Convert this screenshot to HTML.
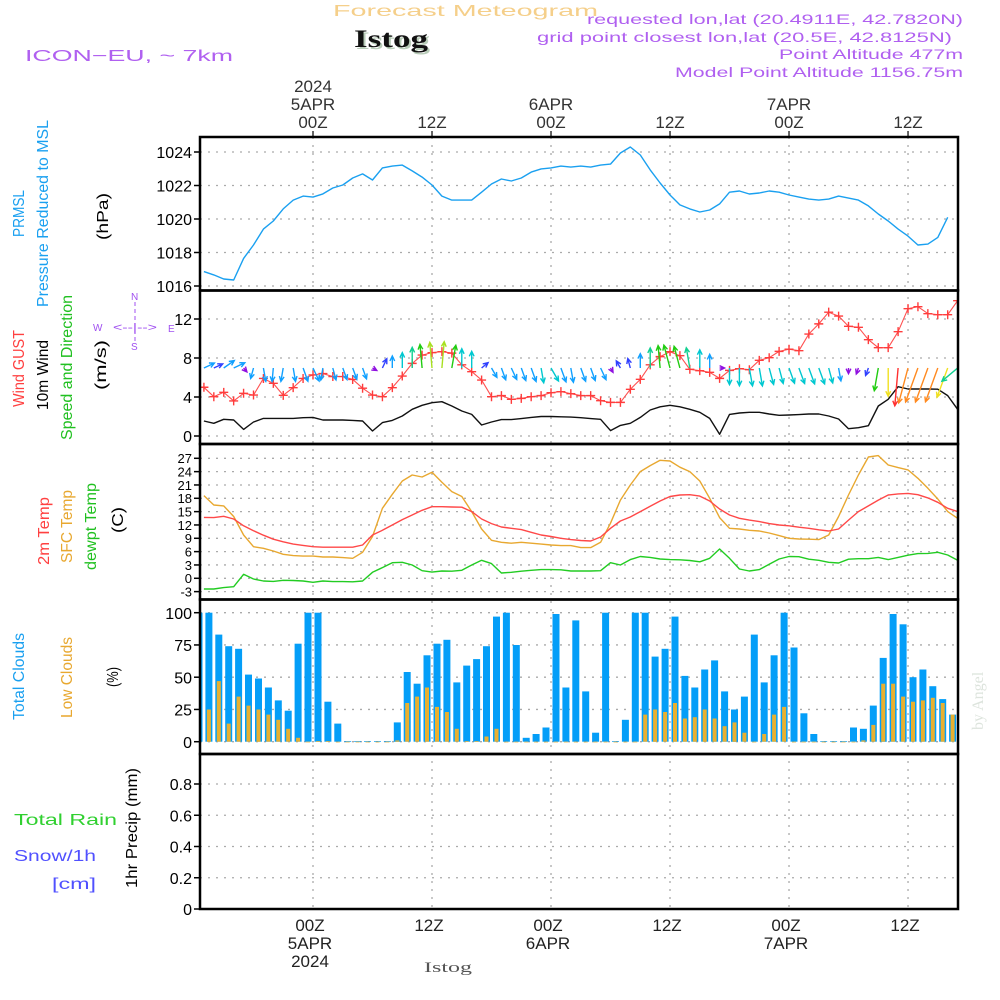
<!DOCTYPE html>
<html><head><meta charset="utf-8">
<style>
html,body{margin:0;padding:0;background:#fff;}
svg{display:block;font-family:"Liberation Sans",sans-serif;}
</style></head>
<body>
<svg id="chart" width="1000" height="1000" viewBox="0 0 1000 1000" xmlns="http://www.w3.org/2000/svg">
<defs><clipPath id="plotclip"><rect x="200" y="137" width="758" height="772"/></clipPath></defs>
<rect x="0" y="0" width="1000" height="1000" fill="#fff"/>
<!-- header -->
<text x="333" y="16" font-size="16" fill="#f5cf8a" textLength="265" lengthAdjust="spacingAndGlyphs">Forecast Meteogram</text>
<text x="356" y="49" font-size="25" font-weight="bold" font-family="Liberation Serif,serif" fill="#b8ccb8" textLength="74" lengthAdjust="spacingAndGlyphs">Istog</text>
<text x="354" y="47" font-size="25" font-weight="bold" font-family="Liberation Serif,serif" fill="#111" textLength="74" lengthAdjust="spacingAndGlyphs">Istog</text>
<text x="25" y="61" font-size="16" fill="#b060f0" textLength="208" lengthAdjust="spacingAndGlyphs">ICON−EU, ~ 7km</text>
<g fill="#b060f0" font-size="14" text-anchor="end">
<text x="963" y="24" textLength="376" lengthAdjust="spacingAndGlyphs">requested lon,lat (20.4911E, 42.7820N)</text>
<text x="952" y="42" textLength="415" lengthAdjust="spacingAndGlyphs">grid point closest lon,lat (20.5E, 42.8125N)</text>
<text x="963" y="59" textLength="184" lengthAdjust="spacingAndGlyphs">Point Altitude 477m</text>
<text x="963" y="77" textLength="288" lengthAdjust="spacingAndGlyphs">Model Point Altitude 1156.75m</text>
</g>
<!-- left labels -->
<g font-size="16">
<text transform="translate(24,237) rotate(-90)" fill="#1aa0f0" textLength="47" lengthAdjust="spacingAndGlyphs">PRMSL</text>
<text transform="translate(48,307) rotate(-90)" fill="#1aa0f0" textLength="187" lengthAdjust="spacingAndGlyphs">Pressure Reduced to MSL</text>
<text transform="translate(108,240) rotate(-90)" fill="#000" textLength="47" lengthAdjust="spacingAndGlyphs">(hPa)</text>
<text transform="translate(24,407) rotate(-90)" fill="#ff4040" textLength="77" lengthAdjust="spacingAndGlyphs">Wind GUST</text>
<text transform="translate(48,410) rotate(-90)" fill="#000" textLength="70" lengthAdjust="spacingAndGlyphs">10m Wind</text>
<text transform="translate(72,440) rotate(-90)" fill="#20c020" textLength="145" lengthAdjust="spacingAndGlyphs">Speed and Direction</text>
<text transform="translate(106,390) rotate(-90)" fill="#000" textLength="50" lengthAdjust="spacingAndGlyphs">(m/s)</text>
<text transform="translate(49,565) rotate(-90)" fill="#ff4040" textLength="68" lengthAdjust="spacingAndGlyphs">2m Temp</text>
<text transform="translate(72,563) rotate(-90)" fill="#e8a830" textLength="73" lengthAdjust="spacingAndGlyphs">SFC Temp</text>
<text transform="translate(96,570) rotate(-90)" fill="#20c020" textLength="87" lengthAdjust="spacingAndGlyphs">dewpt Temp</text>
<text transform="translate(123,533) rotate(-90)" fill="#000" textLength="26" lengthAdjust="spacingAndGlyphs">(C)</text>
<text transform="translate(24,720) rotate(-90)" fill="#1aa0f0" textLength="87" lengthAdjust="spacingAndGlyphs">Total Clouds</text>
<text transform="translate(72,718) rotate(-90)" fill="#e8a830" textLength="81" lengthAdjust="spacingAndGlyphs">Low Clouds</text>
<text transform="translate(118,687) rotate(-90)" fill="#000" textLength="20" lengthAdjust="spacingAndGlyphs">(%)</text>
<text x="14" y="825" fill="#30d030" textLength="103" lengthAdjust="spacingAndGlyphs">Total   Rain</text>
<text x="14" y="861" fill="#5050ff" textLength="82" lengthAdjust="spacingAndGlyphs">Snow/1h</text>
<text x="52" y="889" fill="#5050ff" textLength="44" lengthAdjust="spacingAndGlyphs">[cm]</text>
<text transform="translate(137,888) rotate(-90)" fill="#000" textLength="120" lengthAdjust="spacingAndGlyphs">1hr Precip (mm)</text>
</g>
<!-- compass -->
<g fill="#a050f0" font-size="10">
<text x="131" y="300">N</text><text x="131" y="350">S</text><text x="93" y="331">W</text><text x="168" y="332">E</text>
<text x="113" y="331" font-size="11" textLength="44" lengthAdjust="spacingAndGlyphs">&lt;--|--&gt;</text>
<line x1="135" y1="302" x2="135" y2="342" stroke="#a050f0" stroke-dasharray="4,3"/>
</g>
<text transform="translate(983,730) rotate(-90)" font-size="16" font-family="Liberation Serif,serif" fill="#dde4dd">by Angel</text>
<text x="424" y="972" font-size="15" font-family="Liberation Serif,serif" fill="#555" textLength="48" lengthAdjust="spacingAndGlyphs">Istog</text>
<g id="grid"></g>
<g id="marks" clip-path="url(#plotclip)"></g>
<g id="axes"></g>
</svg>
<script>
// ---- data ----
const hourStart = -11; // hours relative to 00Z 5APR
const pressure = [1016.86,1016.66,1016.42,1016.36,1017.65,1018.45,1019.4,1019.88,1020.6,1021.13,1021.37,1021.31,1021.5,1021.85,1022.03,1022.45,1022.69,1022.33,1023.05,1023.16,1023.22,1022.87,1022.5,1022.03,1021.37,1021.13,1021.13,1021.13,1021.6,1022.09,1022.39,1022.27,1022.45,1022.8,1022.99,1023.05,1023.16,1023.1,1023.16,
1023.1,1023.22,1023.28,1023.94,1024.3,1023.82,1022.93,1022.15,1021.43,1020.84,1020.6,1020.42,1020.54,1020.9,1021.6,1021.67,1021.49,1021.55,1021.67,1021.6,1021.43,1021.31,1021.19,1021.13,1021.19,1021.37,1021.25,1021.13,1020.78,1020.3,1019.88,1019.4,1018.98,1018.45,1018.5,1018.9,1020.1];
const gust = [5.0,4.03,4.48,3.6,4.38,4.2,5.9,5.4,4.17,4.96,5.9,6.26,6.4,6.1,6.1,5.8,4.9,4.2,4.03,4.96,6.15,7.45,8.3,8.55,8.65,8.5,7.3,6.6,5.74,4.03,4.14,3.76,3.86,4.03,4.14,4.44,4.55,4.34,4.14,
4.14,3.62,3.45,3.45,4.79,5.81,7.3,8.14,8.65,8.24,6.84,6.7,6.53,5.91,6.73,6.9,6.8,7.76,8.03,8.68,8.9,8.75,10.46,11.5,12.7,12.3,11.25,11.15,9.88,9.06,9.06,10.7,13.06,13.26,12.55,12.44,12.44,13.88];
const wind10m = [1.54,1.3,1.71,1.64,0.68,1.44,1.81,1.81,1.81,1.81,1.88,1.91,1.64,1.64,1.64,1.6,1.54,0.51,1.37,1.6,2.05,2.74,3.15,3.42,3.52,3.08,2.56,2.22,1.13,1.44,1.68,1.68,1.78,1.91,2.0,2.0,1.97,1.94,1.88,
1.78,1.71,0.55,1.09,1.3,1.91,2.67,3.0,3.15,3.0,2.74,2.43,1.81,0.17,2.22,2.36,2.43,2.43,2.26,2.12,2.15,2.2,2.26,2.26,2.05,1.74,0.75,0.85,1.06,3.08,3.76,5.06,4.82,4.82,4.82,4.8,4.14,2.74];
const windDir = [65,65,55,65,140,195,170,185,190,170,160,155,190,165,160,160,160,120,25,0,0,0,355,355,5,10,0,0,50,150,160,155,160,160,170,150,160,170,160,
160,155,150,330,345,0,0,355,345,345,350,0,0,90,180,180,170,170,165,165,160,160,160,160,165,170,180,200,200,190,180,185,195,200,200,200,200,230];
const temp2m = [13.7,13.65,13.95,13.35,11.8,10.7,9.7,8.8,8.2,7.7,7.4,7.1,7.0,7.0,7.0,7.0,7.5,9.75,10.8,12.0,13.2,14.25,15.3,16.1,16.1,16.05,16.0,15.0,13.35,12.3,11.55,11.25,10.95,10.35,9.75,9.4,9.0,8.7,8.5,
8.4,9.3,11.25,12.9,13.8,15.0,16.2,17.4,18.4,18.75,18.8,18.5,17.4,15.6,14.25,13.5,13.1,12.75,12.3,12.0,11.8,11.5,11.25,10.9,10.65,11.1,13.1,15.0,16.3,17.6,18.75,19.0,19.1,18.8,18.1,17.1,15.75,15.0];
const tempSfc = [18.6,16.5,16.3,13.9,9.75,7.1,6.75,6.15,5.4,5.1,5.0,5.0,4.8,4.8,4.65,4.5,5.85,9.4,15.75,18.9,21.9,23.25,22.8,23.85,21.6,19.5,18.4,15.0,11.1,8.55,8.1,7.9,8.1,7.9,7.7,7.5,7.35,7.35,6.9,
6.9,8.1,12.4,17.6,21.0,24.0,25.35,26.55,26.4,25.0,24.0,21.9,18.0,13.65,11.25,11.1,10.8,10.65,10.2,9.6,9.0,8.85,8.8,8.7,9.75,13.9,18.75,23.25,27.3,27.6,25.5,24.9,24.4,22.5,20.25,17.85,15.0,13.5];
const dewpt = [-2.4,-2.4,-2.1,-1.9,0.9,-0.15,-0.6,-0.7,-0.45,-0.5,-0.6,-0.9,-0.6,-0.75,-0.75,-0.8,-0.6,1.35,2.4,3.5,3.6,3.0,1.7,1.4,1.65,1.6,1.8,3.0,4.05,3.3,1.2,1.35,1.6,1.8,1.95,1.95,1.9,1.65,1.65,
1.65,1.7,3.5,3.0,4.2,4.9,4.7,4.35,4.2,4.15,4.0,3.7,4.5,6.6,4.5,2.1,1.65,1.95,3.15,4.35,4.9,4.85,4.3,4.05,3.6,3.45,4.3,4.4,4.4,4.7,4.2,4.7,5.2,5.55,5.6,5.85,5.25,4.05];
const barStart = -11.5;
const cloudTotal = [100,100,83,74,72,52,49,42,32,24,76,100,100,31,14,0.5,0.5,0.5,0.5,0.5,15,54,45,67,76,79,46,59,64,74,97,100,75,3,6,11,99,42,94,39,7,100,0.5,17,100,100,66,72,97,51,42,56,63,39,25,35,83,46,67,100,73,22,6,0.5,0.5,0.5,11,10,28,65,99,91,50,56,43,33,21];
const cloudLow = [20,25,47,14,35,28,25,21,17,10,3,0,0.5,0.5,0,0,0,0,0,0,1,30,35,42,27,23,10,0.5,0.5,4,10,0,0,0,0,0,0,0,0,0,0,0,0,0,0,21,25,23,30,18,19,25,18,12,15,7,0,6,21,27,0,0,0,0,0,0,0,1,13,45,45,35,31,32,34,30,21];
const precip = new Array(77).fill(0);
const pressureTicks = [1016,1018,1020,1022,1024];
const windTicks = [0,4,8,12];
const tempTicks = [-3,0,3,6,9,12,15,18,21,24,27];
const cloudTicks = [0,25,50,75,100];
const precipTicks = [0,0.2,0.4,0.6,0.8];
const timeTicks = [0,12,24,36,48,60];
const timeLabels = ["00Z","12Z","00Z","12Z","00Z","12Z"];
const dayLabels = ["5APR","","6APR","","7APR",""];
const yearLabels = ["2024","","","","",""];

// ---- scales ----
const X0=200, X1=958;
const xT = t => 313 + t*9.917;
const yP = v => 286 - (v-1016)*16.75;
const yW = v => 436 - v*9.75;
const yT = v => 458.3 - (v-27)*4.444;
const yC = v => 741.7 - v*1.29;
const yR = v => 909 - v*156.25;
const panels = [[137,290.5],[290.5,444],[444,599.5],[599.5,754],[754,909]];

const NS='http://www.w3.org/2000/svg';
function mk(parent, tag, attrs){const e=document.createElementNS(NS,tag);for(const k in attrs)e.setAttribute(k,attrs[k]);parent.appendChild(e);return e;}
const grid=document.getElementById('grid'), marks=document.getElementById('marks'), axes=document.getElementById('axes');

// ---- grid & ticks ----
function hGrid(ticks, sc, fmt, fs, name){
  ticks.forEach(v=>{
    const y=sc(v);
    const g=mk(grid,'line',{x1:X0,x2:X1,y1:y,y2:y,stroke:'#aaa','stroke-dasharray':'2,6','stroke-width':1.3});
    
    
    const tk=mk(axes,'line',{x1:X0-6,x2:X0,y1:y,y2:y,stroke:'#000','stroke-width':1.5});
    
    
    const tx=mk(axes,'text',{x:X0-8,y:y+fs*0.38,'font-size':fs,'text-anchor':'end',fill:'#000'});
    tx.textContent=fmt(v);
    
    
  });
}
hGrid(pressureTicks,yP,v=>String(v),16,'pressure');
hGrid(windTicks,yW,v=>String(v),16,'wind');
hGrid(tempTicks,yT,v=>String(v),13,'temp');
hGrid(cloudTicks,yC,v=>String(v),16,'cloud');
hGrid(precipTicks,yR,v=>v===0?'0':v.toFixed(1),16,'precip');

timeTicks.forEach((t,i)=>{
  const x=xT(t);
  const v=mk(grid,'line',{x1:x,x2:x,y1:137,y2:909,stroke:'#aaa','stroke-dasharray':'2,6','stroke-width':1.3});
  
  
  const tt=mk(axes,'line',{x1:x,x2:x,y1:131,y2:137,stroke:'#000','stroke-width':1.2});
  
  
  const tl=mk(axes,'text',{x:x,y:128,'font-size':17,'text-anchor':'middle',fill:'#333'});
  tl.textContent=timeLabels[i];
  
  
  if(dayLabels[i]){
    const dl=mk(axes,'text',{x:x,y:110,'font-size':17,'text-anchor':'middle',fill:'#333'});
    dl.textContent=dayLabels[i];
    
    
    const bd=mk(axes,'text',{x:x-3,y:949,'font-size':17,'text-anchor':'middle',fill:'#222'});
    bd.textContent=dayLabels[i];
    
    
  }
  if(yearLabels[i]){
    const yl=mk(axes,'text',{x:x,y:92,'font-size':17,'text-anchor':'middle',fill:'#333'});
    yl.textContent=yearLabels[i];
    
    
    const by=mk(axes,'text',{x:x-3,y:967,'font-size':17,'text-anchor':'middle',fill:'#222'});
    by.textContent=yearLabels[i];
    
    
  }
  const bl=mk(axes,'text',{x:x-3,y:931,'font-size':17,'text-anchor':'middle',fill:'#222'});
  bl.textContent=timeLabels[i];
  
  
});

// ---- series helpers ----
function poly(arr, sc, color, name, w){
  const pts=arr.map((v,i)=>xT(hourStart+i).toFixed(1)+','+sc(v).toFixed(1)).join(' ');
  const p=mk(marks,'polyline',{points:pts,fill:'none',stroke:color,'stroke-width':w||1.4,'stroke-linejoin':'round'});
  
  
  return p;
}

// clouds
cloudTotal.forEach((v,i)=>{
  const x=xT(barStart+i), y=yC(v);
  const r=mk(marks,'rect',{x:(x-3.5).toFixed(1),y:y.toFixed(1),width:7,height:Math.max(0.7,yC(0)-y).toFixed(1),fill:'#049ef8'});
  
  
});
cloudLow.forEach((v,i)=>{
  const x=xT(barStart+i), y=yC(v);
  const r=mk(marks,'rect',{x:(x-2).toFixed(1),y:y.toFixed(1),width:4,height:Math.max(0.7,yC(0)-y).toFixed(1),fill:'#e8b030'});
  
  
});

// pressure
poly(pressure,yP,'#1aa0f0','pressure-line',1.4);
// wind
poly(wind10m,yW,'#111','wind-10m-line',1.4);
poly(gust,yW,'#ff5050','wind-gust-line',1.1);
gust.forEach((v,i)=>{
  const x=xT(hourStart+i), y=yW(v);
  const m=mk(marks,'path',{d:`M${x-4.5},${y}H${x+4.5}M${x},${y-4.5}V${y+4.5}`,stroke:'#ff3c3c','stroke-width':1.4});
  
  
});
function windColor(s){
  if(s<0.9) return '#9010e0';
  if(s<1.4) return '#3040ff';
  if(s<2.0) return '#10a0ff';
  if(s<2.6) return '#00c8d0';
  if(s<3.0) return '#10d090';
  if(s<3.3) return '#20cc10';
  if(s<3.6) return '#a8e020';
  if(s<4.2) return '#f0e020';
  if(s<5.0) return '#ff8a20';
  return '#ff3030';
}
windDir.forEach((a,i)=>{
  const s=wind10m[i], x=xT(hourStart+i), y=368;
  const L=Math.max(5,7.5*s), r=a*Math.PI/180;
  const hx=x+Math.sin(r)*L, hy=y-Math.cos(r)*L;
  const h=5.5, b1=r+Math.PI-0.45, b2=r+Math.PI+0.45;
  const d=`M${x.toFixed(1)},${y}L${hx.toFixed(1)},${hy.toFixed(1)}M${(hx+Math.sin(b1)*h).toFixed(1)},${(hy-Math.cos(b1)*h).toFixed(1)}L${hx.toFixed(1)},${hy.toFixed(1)}L${(hx+Math.sin(b2)*h).toFixed(1)},${(hy-Math.cos(b2)*h).toFixed(1)}`;
  const ar=mk(marks,'path',{d:d,fill:'none',stroke:windColor(s),'stroke-width':1.4});
  
  
});
// temps
poly(tempSfc,yT,'#e8a830','sfc-temp-line',1.4);
poly(temp2m,yT,'#ff4848','temp-2m-line',1.4);
poly(dewpt,yT,'#22cc22','dewpt-line',1.4);
// precip
const pl=poly(precip,yR,'#333','precip-line',1.8);
pl.setAttribute('stroke-dasharray','5,3');

// ---- panel frames ----
panels.forEach((p,i)=>{
  const r=mk(axes,'rect',{x:X0,y:p[0],width:X1-X0,height:p[1]-p[0],fill:'none',stroke:'#000','stroke-width':2.5});
  
  
});
</script>
</body></html>
